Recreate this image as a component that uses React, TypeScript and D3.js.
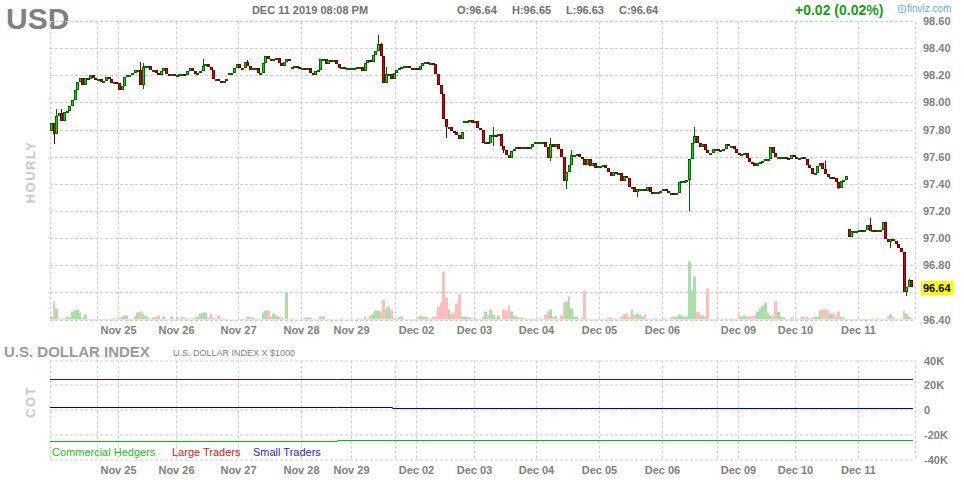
import React from 'react'
import * as d3 from 'd3'

const W = 964
const H = 480
const FONT = 'Arial, "Liberation Sans", Helvetica, sans-serif'

// one entry per trading session (hourly bars); blank label = Friday tail / Sunday evening open
const sessionLabels = ['', '', 'Nov 25', 'Nov 26', 'Nov 27', 'Nov 28', 'Nov 29', '', 'Dec 02', 'Dec 03', 'Dec 04', 'Dec 05', 'Dec 06', '', 'Dec 09', 'Dec 10', 'Dec 11']

// hourly closes, per session
const closes: number[][] = [
  [97.85, 97.77, 97.9, 97.92, 97.86, 97.93, 97.94, 97.97, 98.02, 98.09, 98.15, 98.18, 98.13, 98.18, 98.17, 98.2, 98.18, 98.17],
  [98.17, 98.15, 98.16, 98.19, 98.17, 98.14, 98.15, 98.14],
  [98.09, 98.12, 98.19, 98.2, 98.2, 98.22, 98.24, 98.24, 98.13, 98.26, 98.27, 98.27, 98.24, 98.24, 98.22, 98.2, 98.23, 98.25, 98.21, 98.2, 98.21, 98.2],
  [98.2, 98.21, 98.21, 98.2, 98.23, 98.25, 98.23, 98.21, 98.22, 98.23, 98.27, 98.28, 98.26, 98.24, 98.17, 98.17, 98.16, 98.15, 98.16, 98.17, 98.22, 98.22, 98.25, 98.28],
  [98.25, 98.25, 98.3, 98.27, 98.24, 98.25, 98.25, 98.22, 98.22, 98.29, 98.34, 98.32, 98.31, 98.32, 98.33, 98.29, 98.27, 98.3, 98.32, 98.31, 98.26, 98.27, 98.26, 98.25],
  [98.25, 98.24, 98.25, 98.22, 98.2, 98.23, 98.24, 98.32, 98.32, 98.28, 98.31, 98.3, 98.31, 98.28, 98.25, 98.26, 98.25, 98.25, 98.25],
  [98.25, 98.25, 98.26, 98.26, 98.23, 98.29, 98.31, 98.3, 98.35, 98.38, 98.43, 98.34, 98.14, 98.21, 98.21, 98.17, 98.22],
  [98.24, 98.25, 98.26, 98.27, 98.27, 98.25, 98.24, 98.25],
  [98.24, 98.27, 98.29, 98.3, 98.29, 98.29, 98.28, 98.21, 98.13, 98.06, 97.88, 97.82, 97.82, 97.79, 97.78, 97.76, 97.73, 97.78, 97.86, 97.86, 97.87, 97.85],
  [97.86, 97.81, 97.8, 97.7, 97.71, 97.7, 97.76, 97.76, 97.75, 97.77, 97.68, 97.65, 97.61, 97.59, 97.64, 97.66, 97.67, 97.66, 97.67, 97.67, 97.66, 97.67, 97.69, 97.71],
  [97.71, 97.71, 97.71, 97.67, 97.59, 97.69, 97.67, 97.69, 97.66, 97.6, 97.42, 97.49, 97.54, 97.61, 97.61, 97.62, 97.6, 97.58, 97.54, 97.58, 97.53, 97.55, 97.52, 97.53],
  [97.53, 97.54, 97.52, 97.49, 97.46, 97.49, 97.47, 97.48, 97.42, 97.46, 97.44, 97.38, 97.38, 97.34, 97.36, 97.36, 97.36, 97.35, 97.38, 97.34, 97.33, 97.34, 97.34, 97.35],
  [97.36, 97.35, 97.33, 97.33, 97.32, 97.33, 97.41, 97.42, 97.42, 97.43, 97.58, 97.7, 97.75, 97.7, 97.67, 97.69, 97.65, 97.63, 97.63, 97.66, 97.66],
  [97.65, 97.65, 97.66, 97.69, 97.68, 97.68, 97.66, 97.63],
  [97.61, 97.62, 97.63, 97.59, 97.56, 97.55, 97.53, 97.55, 97.56, 97.57, 97.58, 97.58, 97.67, 97.63, 97.6, 97.6, 97.6, 97.6, 97.59, 97.58, 97.61, 97.6],
  [97.59, 97.59, 97.6, 97.58, 97.54, 97.52, 97.47, 97.48, 97.53, 97.55, 97.51, 97.47, 97.45, 97.45, 97.44, 97.41, 97.37, 97.42, 97.43, 97.46, 97.01, 97.05, 97.05, 97.05],
  [97.06, 97.05, 97.06, 97.1, 97.05, 97.06, 97.05, 97.06, 97.06, 97.12, 96.99, 96.97, 96.99, 96.98, 96.96, 96.93, 96.9, 96.6, 96.64, 96.69, 96.64],
]

// hourly volume, per session (relative units)
const volumes: number[][] = [
  [3, 18, 11, 0.5, 1, 1, 3, 2, 8, 9, 10, 7, 2, 5, 1, 0.5, 0.5, 0.5],
  [0.5, 0.5, 0.5, 0.5, 0.5, 1, 1, 1],
  [2, 3, 4, 4, 0.5, 0.5, 3, 7, 8, 6, 4, 2, 1, 2, 3, 4, 0.5, 3, 0.5, 0.5, 3, 0.5],
  [3, 1, 3, 2, 1, 0.5, 1, 2, 3, 6, 7, 7, 2, 6, 2, 0.5, 4, 0.5, 1, 0.5, 0.3, 0.3, 0.3, 0.3],
  [0.5, 0.5, 0.5, 3, 3, 2, 1, 0.5, 0.5, 7, 9, 9, 3, 6, 4, 3, 2, 0.5, 27, 0.5, 1, 0.3, 0.3, 0.3],
  [0.5, 2, 2, 2, 0.5, 0.5, 0.5, 3, 3, 0.5, 0.5, 0.3, 0.3, 0.3, 0.5, 1, 0.3, 0.3, 0.3],
  [0.3, 0.3, 1, 1, 0.5, 3, 1, 4, 6, 9, 9, 8, 20, 11, 13, 10, 1],
  [1, 2, 3, 0.5, 0.3, 0.3, 0.5, 0.5],
  [2, 4, 3, 3, 2, 1, 3, 3, 13, 17, 48, 22, 10, 6, 6, 16, 25, 3, 3, 3, 2, 1],
  [2, 0.5, 0.5, 3, 8, 4, 10, 5, 2, 4, 1, 10, 9, 14, 8, 4, 3, 2, 2, 1, 1, 1, 1, 0.5],
  [0.5, 1, 0.5, 5, 8, 10, 3, 4, 0.5, 4, 17, 18, 23, 11, 3, 3, 0.5, 2, 29, 1, 0.5, 0.5, 0.5, 0.5],
  [0.5, 0.5, 0.5, 2, 2, 1, 1, 0.5, 3, 5, 6, 3, 10, 5, 6, 5, 3, 5, 0.5, 0.5, 1, 1, 0.5, 0.5],
  [1, 1, 0.5, 2, 3, 3, 5, 4, 3, 3, 58, 29, 43, 8, 6, 4, 3, 31, 0.5, 0.5, 0.5],
  [1, 0.5, 0.5, 1, 0.5, 1, 0.5, 1],
  [5, 3, 4, 3, 3, 3, 4, 8, 11, 14, 17, 6, 4, 4, 18, 8, 3, 2, 1, 0.5, 2, 0.5],
  [0.5, 0.5, 3, 2, 3, 1, 2, 3, 3, 9, 10, 10, 9, 6, 6, 3, 8, 3, 2, 0.5, 0.5, 0.5, 0.5, 0.5],
  [0.5, 0.5, 0.5, 0.5, 0.5, 1, 0.5, 1, 0.5, 0.5, 0.5, 3, 5, 2, 0.5, 0.5, 1, 9, 6, 3, 2],
]

const firstOpen = 97.79
// [bar index, open] where the bar opens away from the previous close
const gapOpens: [number, number][] = [[68, 98.22], [92, 98.25], [158, 97.85], [305, 97.07]]
// notable wicks: [bar index, price]
const wickHighs: [number, number][] = [
  [2, 97.95], [4, 97.95], [34, 98.3], [35, 98.29], [58, 98.32], [75, 98.31], [125, 98.5], [126, 98.44], [128, 98.26],
  [169, 97.82], [191, 97.74], [199, 97.65], [246, 97.82], [296, 97.57], [313, 97.15], [328, 96.7],
]
const wickLows: [number, number][] = [
  [1, 97.69], [35, 98.1], [151, 97.74], [169, 97.68], [173, 97.63], [191, 97.57], [197, 97.36], [224, 97.3],
  [244, 97.2], [301, 97.36], [321, 96.93], [327, 96.57],
]

const priceTicks = [96.4, 96.6, 96.8, 97.0, 97.2, 97.4, 97.6, 97.8, 98.0, 98.2, 98.4, 98.6]
const cotTicks = [-40, -20, 0, 20, 40]

// COT net positions (thousands of contracts), step values by bar index
const cotBars = [0, 110, 131, 330]
const commercialHedgers = [-25.0, -24.3, -24.3, -24.3]
const largeTraders = [24.9, 24.9, 24.9, 24.9]
const smallTraders = [2.2, 2.2, 1.4, 1.4]

type Bar = { i: number; o: number; h: number; l: number; c: number; v: number }

function buildBars() {
  const gap = new Map(gapOpens)
  const hi = new Map(wickHighs)
  const lo = new Map(wickLows)
  const bars: Bar[] = []
  const starts: number[] = []
  let prev = firstOpen
  closes.forEach((day, s) => {
    starts.push(bars.length)
    day.forEach((c, k) => {
      const i = bars.length
      const o = gap.get(i) ?? prev
      const h = Math.max(o, c, hi.get(i) ?? -Infinity)
      const l = Math.min(o, c, lo.get(i) ?? Infinity)
      bars.push({ i, o, h, l, c, v: volumes[s][k] ?? 0 })
      prev = c
    })
  })
  return { bars, starts }
}

const crisp = (v: number) => Math.round(v) + 0.5

export default function App() {
  const { bars, starts } = buildBars()
  const left = 50
  const right = 915
  const top = 21
  const bottom = 319.5
  const cotTop = 360.5
  const cotBottom = 459.5

  const x = d3.scaleLinear().domain([0, bars.length]).range([left, 913])
  const y = d3.scaleLinear().domain([96.4, 98.6]).range([bottom, top])
  const yVol = d3.scaleLinear().domain([0, 58]).range([bottom, 261.5])
  const yCot = d3.scaleLinear().domain([-40, 40]).range([cotBottom, cotTop])

  const gridColor = '#cfcfcf'
  const dash = '3,2'
  const axisText = '#808080'

  const vLines = [0, ...starts.slice(1)].map((i) => crisp(x(i)))
  vLines.push(crisp(right))

  const cotLine = (vals: number[]) =>
    d3
      .line<number>()
      .x((_, k) => x(cotBars[k]))
      .y((v) => crisp(yCot(v)))
      .curve(d3.curveStepAfter)(vals) || ''

  const last = bars[bars.length - 1]
  const lastY = Math.round(y(last.c))

  return (
    <svg
      width={W}
      height={H}
      style={{ position: 'absolute', left: 0, top: 0, background: '#fff' }}
      fontFamily={FONT}
    >
      <rect x={0} y={0} width={W} height={H} fill="#fff" />

      {/* header */}
      <text x={6} y={29} fontSize={30} fontWeight="bold" fill="#808080">USD</text>
      <text x={310} y={14} fontSize={11} fontWeight="bold" fill="#707070" textAnchor="middle">DEC 11 2019 08:08 PM</text>
      <text y={14} fontSize={11} fontWeight="bold" fill="#707070">
        <tspan x={457}>O:96.64</tspan>
        <tspan x={512}>H:96.65</tspan>
        <tspan x={566}>L:96.63</tspan>
        <tspan x={619}>C:96.64</tspan>
      </text>
      <text x={795} y={15} fontSize={14} fontWeight="bold" fill="#13a013">+0.02 (0.02%)</text>
      <g fill="none" stroke="#62a8dc" strokeWidth={0.9}>
        <rect x={898.5} y={5.5} width={7} height={7} rx={2} />
        <line x1={900.5} y1={8} x2={903.5} y2={8} />
        <line x1={900.5} y1={10} x2={903.5} y2={10} />
      </g>
      <text x={907} y={12} fontSize={10} fill="#62a8dc">finviz.com</text>

      {/* price pane grid */}
      <g stroke={gridColor} strokeDasharray={dash} strokeWidth={1}>
        {priceTicks.map((p) => (
          <line key={p} x1={left} x2={right} y1={crisp(y(p))} y2={crisp(y(p))} />
        ))}
        {vLines.map((vx, k) => (
          <line key={k} x1={vx} x2={vx} y1={crisp(top)} y2={crisp(bottom)} />
        ))}
      </g>

      {/* volume */}
      <g>
        {bars.map((b) => {
          const x0 = Math.round(x(b.i))
          const x1 = Math.round(x(b.i + 1))
          const yv = yVol(b.v)
          return (
            <rect
              key={b.i}
              x={x0}
              width={Math.max(1, x1 - x0)}
              y={yv}
              height={bottom - yv}
              fill={b.c >= b.o ? '#aadfaa' : '#ffbdbd'}
            />
          )
        })}
      </g>

      {/* candles */}
      <g>
        {bars.map((b) => {
          const up = b.c >= b.o
          const dark = up ? '#006600' : '#720000'
          const bright = up ? '#00e400' : '#e00000'
          const x0 = Math.round(x(b.i))
          const yt = Math.round(y(Math.max(b.o, b.c)))
          const yb = Math.round(y(Math.min(b.o, b.c)))
          const hgt = Math.max(2, yb - yt)
          const wt = Math.round(y(b.h))
          const wb = Math.round(y(b.l))
          return (
            <g key={b.i}>
              {wb - wt > hgt && <rect x={x0 + 1} width={1} y={wt} height={wb - wt} fill={dark} />}
              <rect x={x0} width={3} y={yt} height={hgt} fill={dark} />
              {hgt > 2 && <rect x={x0 + 1} width={1} y={yt + 1} height={hgt - 2} fill={bright} />}
            </g>
          )
        })}
      </g>

      {/* price axis (the last-price box sits on top of the nearest tick) */}
      <g fontSize={11} fontWeight="bold" fill={axisText}>
        {priceTicks
          .filter((p) => Math.abs(y(p) - lastY) > 10)
          .map((p) => (
            <text key={p} x={923} y={y(p) + 4}>{p.toFixed(2)}</text>
          ))}
      </g>
      <rect x={921} y={lastY - 6} width={33} height={14} fill="#ffff00" />
      <text x={923} y={lastY + 5} fontSize={11} fontWeight="bold" fill="#000">{last.c.toFixed(2)}</text>

      <text
        transform="translate(35,172) rotate(-90)"
        textAnchor="middle"
        fontSize={13}
        fontWeight="bold"
        letterSpacing={1.5}
        fill="#c8c8c8"
      >
        HOURLY
      </text>

      {/* date labels */}
      <g fontSize={11} fontWeight="bold" fill={axisText} textAnchor="middle">
        {sessionLabels.map((lab, s) =>
          lab ? (
            <React.Fragment key={s}>
              <text x={crisp(x(starts[s]))} y={334}>{lab}</text>
              <text x={crisp(x(starts[s]))} y={474}>{lab}</text>
            </React.Fragment>
          ) : null,
        )}
      </g>

      {/* COT pane */}
      <text x={4} y={357} fontSize={15} fontWeight="bold" fill="#9a9a9a">U.S. DOLLAR INDEX</text>
      <text x={173} y={356} fontSize={9} fill="#808080">U.S. DOLLAR INDEX X $1000</text>
      <g stroke={gridColor} strokeDasharray={dash} strokeWidth={1}>
        {cotTicks.map((t) => (
          <line key={t} x1={left} x2={right} y1={crisp(yCot(t)) - 0.5} y2={crisp(yCot(t)) - 0.5} />
        ))}
        {vLines.map((vx, k) => (
          <line key={k} x1={vx} x2={vx} y1={cotTop} y2={cotBottom} />
        ))}
      </g>
      <g fill="none" strokeWidth={1}>
        <path d={cotLine(largeTraders)} stroke="#900000" />
        <path d={cotLine(smallTraders)} stroke="#0000b0" />
        <path d={cotLine(commercialHedgers)} stroke="#00c000" />
      </g>
      <g fontSize={11} fontWeight="bold" fill={axisText}>
        {cotTicks.map((t) => (
          <text key={t} x={924} y={yCot(t) + 4}>{t === 0 ? '0' : `${t}K`}</text>
        ))}
      </g>
      <text
        transform="translate(35,402) rotate(-90)"
        textAnchor="middle"
        fontSize={13}
        fontWeight="bold"
        letterSpacing={1.5}
        fill="#c8c8c8"
      >
        COT
      </text>
      <g fontSize={11}>
        <text x={52} y={456} fill="#20c020">Commercial Hedgers</text>
        <text x={172} y={456} fill="#d02020">Large Traders</text>
        <text x={253} y={456} fill="#2a2ad0">Small Traders</text>
      </g>
    </svg>
  )
}
